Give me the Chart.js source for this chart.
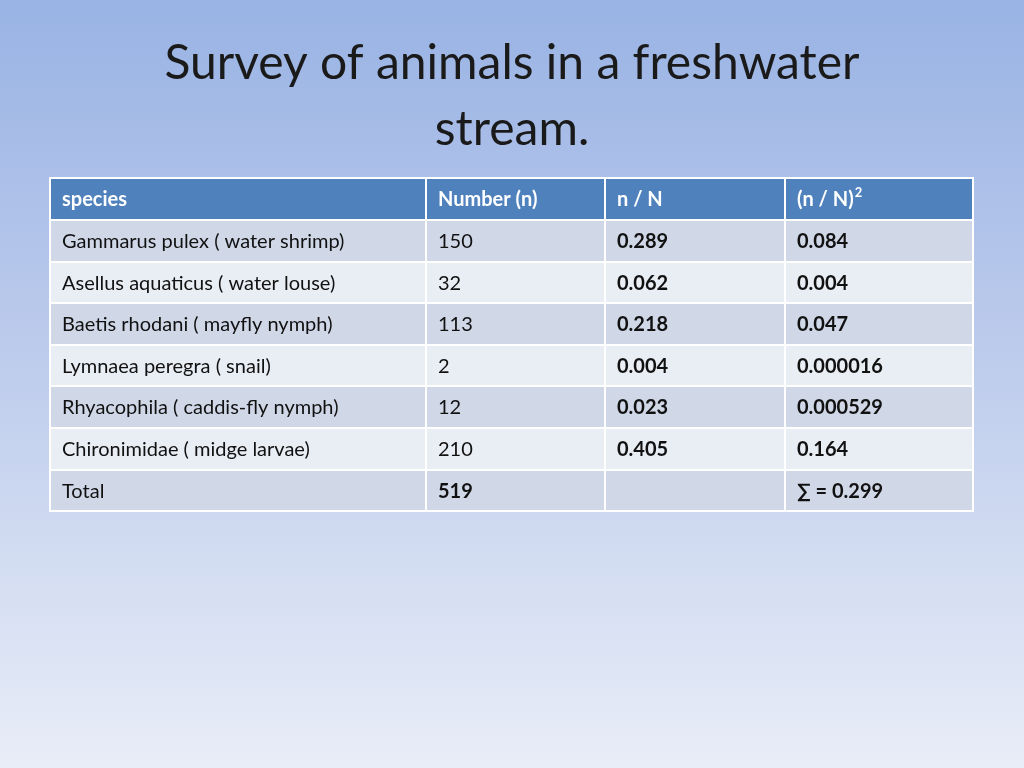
<!DOCTYPE html>
<html>
<head>
<meta charset="utf-8">
<script src="https://cdn.jsdelivr.net/npm/chart.js@4"></script>
<style>
  html, body { margin: 0; padding: 0; }
  #wrap { width: 1024px; height: 768px; }
</style>
</head>
<body>
<div id="wrap"><canvas id="tableChart"></canvas></div>
<script>
const titleLines = ['Survey of animals in a freshwater', 'stream.'];
const headers = ['species', 'Number (n)', 'n / N', '(n / N)'];
const species = [
    'Gammarus pulex ( water shrimp)',
    'Asellus aquaticus ( water louse)',
    'Baetis rhodani ( mayfly nymph)',
    'Lymnaea peregra ( snail)',
    'Rhyacophila ( caddis-fly nymph)',
    'Chironimidae ( midge larvae)',
    'Total'
];
const numbers = ['150', '32', '113', '2', '12', '210', '519'];
const proportions = ['0.289', '0.062', '0.218', '0.004', '0.023', '0.405', ''];
const squares = ['0.084', '0.004', '0.047', '0.000016', '0.000529', '0.164', '∑ = 0.299'];

// layout (pixel geometry on the hidden 0..1024 / 0..768 scales)
const colEdges = [50, 426, 605, 785, 973];
const rowEdges = [178, 220, 262, 303, 345, 386, 428, 470, 511];
const FONT = 'Lato, "Open Sans", "DejaVu Sans", sans-serif';

const tablePlugin = {
    id: 'tablePlugin',
    beforeDraw(chart) {
        const ctx = chart.ctx;
        const g = ctx.createLinearGradient(0, 0, 0, chart.height);
        g.addColorStop(0, '#99b3e4');
        g.addColorStop(0.45, '#bccbec');
        g.addColorStop(1, '#e8edf7');
        ctx.save();
        ctx.fillStyle = g;
        ctx.fillRect(0, 0, chart.width, chart.height);
        ctx.restore();
    },
    afterDraw(chart) {
        const ctx = chart.ctx;
        const x = chart.scales.x, y = chart.scales.y;
        const px = v => x.getPixelForValue(v);
        const py = v => y.getPixelForValue(v);

        ctx.save();
        // title
        ctx.fillStyle = '#1a1a1a';
        ctx.font = '48px ' + FONT;
        ctx.textAlign = 'center';
        ctx.textBaseline = 'middle';
        titleLines.forEach((t, i) => ctx.fillText(t, px(512), py(64 + i * 66)));

        const columns = [species, numbers, proportions, squares];
        const nRows = rowEdges.length - 1;
        for (let r = 0; r < nRows; r++) {
            for (let c = 0; c < 4; c++) {
                const x0 = px(colEdges[c]), x1 = px(colEdges[c + 1]);
                const y0 = py(rowEdges[r]), y1 = py(rowEdges[r + 1]);
                ctx.fillStyle = r === 0 ? '#4f81bd' : (r % 2 === 1 ? '#d0d8e8' : '#e9edf4');
                ctx.fillRect(x0, y0, x1 - x0, y1 - y0);
                ctx.strokeStyle = '#ffffff';
                ctx.lineWidth = 2;
                ctx.strokeRect(x0, y0, x1 - x0, y1 - y0);

                const text = r === 0 ? headers[c] : columns[c][r - 1];
                const bold = r === 0 || c >= 2 || (c === 1 && r === nRows - 1);
                ctx.fillStyle = r === 0 ? '#ffffff' : '#111111';
                ctx.font = (bold ? 'bold ' : '') + '20px ' + FONT;
                ctx.textAlign = 'left';
                const ty = (y0 + y1) / 2 + 1;
                ctx.fillText(text, x0 + 12, ty);
                if (r === 0 && c === 3) {
                    const w = ctx.measureText(text).width;
                    ctx.font = 'bold 13px ' + FONT;
                    ctx.fillText('2', x0 + 12 + w + 1, ty - 7);
                }
            }
        }
        ctx.restore();
    }
};

new Chart(document.getElementById('tableChart'), {
    type: 'scatter',
    data: { datasets: [{ data: [] }] },
    options: {
        responsive: true,
        maintainAspectRatio: false,
        animation: false,
        layout: { padding: 0 },
        plugins: { legend: { display: false }, tooltip: { enabled: false } },
        scales: {
            x: { display: false, min: 0, max: 1024 },
            y: { display: false, min: 0, max: 768, reverse: true }
        }
    },
    plugins: [tablePlugin]
});
</script>
</body>
</html>
